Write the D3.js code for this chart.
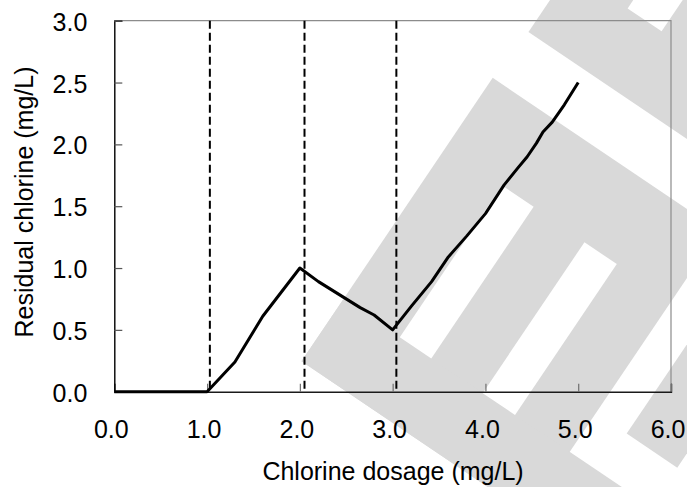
<!DOCTYPE html>
<html>
<head>
<meta charset="utf-8">
<script src="https://cdn.jsdelivr.net/npm/d3@7"></script>
<style>
    html, body { margin: 0; padding: 0; background: #fff; }
    svg { display: block; }
    text { font-family: Arial, "Liberation Sans", sans-serif; fill: #000; }
</style>
</head>
<body>
<div id="chart"></div>
<script>
"use strict";

// chlorine dosage (mg/L) vs residual chlorine (mg/L), breakpoint curve
const dosage   = [0.0, 1.0, 1.3, 1.6, 2.0, 2.2, 2.65, 2.8, 3.0, 3.2, 3.42, 3.6, 3.8, 4.0, 4.2, 4.35, 4.45, 4.55, 4.62, 4.72, 4.85, 5.0];
const residual = [0.0, 0.0, 0.24, 0.61, 1.0, 0.89, 0.68, 0.62, 0.5, 0.69, 0.89, 1.09, 1.26, 1.44, 1.67, 1.81, 1.9, 2.01, 2.1, 2.18, 2.32, 2.5];
const markers  = [1.03, 2.05, 3.04];
const xTicks   = [0, 1, 2, 3, 4, 5, 6];
const yTicks   = [0, 0.5, 1.0, 1.5, 2.0, 2.5, 3.0];

const width = 687;
const height = 487;
const margin = { top: 20.7, right: 16, bottom: 95.3, left: 114.3 };

function drawWatermark(svg) {
    // rotated block logo behind the chart [a0, a1, b0, b1, fill]
    const blocks = [
        [456, 1000, -700, -269, "#d9d9d9"],
        [525, 566, -700, -344, "#fff"],
        [452, 725, -211, 131, "#d9d9d9"],
        [452, 1000, 56, 131, "#d9d9d9"],
        [520, 558, -127, 56, "#fff"],
        [620, 659, -126, 56, "#fff"],
        [762, 823, -700, 9, "#d9d9d9"],
    ];
    svg.append("g")
        .attr("transform", "rotate(34)")
        .selectAll("rect")
        .data(blocks)
        .enter()
        .append("rect")
        .attr("x", d => d[0])
        .attr("width", d => d[1] - d[0])
        .attr("y", d => d[2])
        .attr("height", d => d[3] - d[2])
        .attr("fill", d => d[4]);
}

function renderChart() {
    const svg = d3.select("#chart")
        .append("svg")
        .attr("width", width)
        .attr("height", height);

    drawWatermark(svg);

    const xScale = d3.scaleLinear()
        .domain([0, 6])
        .range([margin.left, width - margin.right]);
    const yScale = d3.scaleLinear()
        .domain([0, 3])
        .range([height - margin.bottom, margin.top]);

    const x0 = xScale(0), x1 = xScale(6);
    const y0 = yScale(0), y1 = yScale(3);

    // top and right frame
    svg.append("path")
        .attr("d", `M${x0},${y1}H${x1}V${y0}`)
        .attr("fill", "none")
        .attr("stroke", "#8c8c8c")
        .attr("stroke-width", 1.2);

    // x axis, ticks pointing inside
    const xAxis = d3.axisBottom(xScale)
        .tickValues(xTicks)
        .tickSize(-8)
        .tickPadding(0)
        .tickFormat(d3.format(".1f"));
    const gx = svg.append("g")
        .attr("transform", `translate(0, ${y0})`)
        .call(xAxis);
    gx.select(".domain").attr("stroke", "#1a1a1a").attr("stroke-width", 1.4);
    gx.selectAll(".tick line").attr("stroke", "#6e6e6e").attr("stroke-width", 1.2);
    gx.selectAll(".tick text")
        .attr("font-size", 25)
        .attr("font-family", null)
        .attr("fill", "#000")
        .attr("y", 0)
        .attr("dy", 46.5)
        .attr("dx", -3.5);

    // y axis, ticks pointing inside
    const yAxis = d3.axisLeft(yScale)
        .tickValues(yTicks)
        .tickSize(-8)
        .tickPadding(0)
        .tickFormat(d3.format(".1f"));
    const gy = svg.append("g")
        .attr("transform", `translate(${x0}, 0)`)
        .call(yAxis);
    gy.select(".domain").attr("stroke", "#000").attr("stroke-width", 1.4);
    gy.selectAll(".tick line").attr("stroke", "#555").attr("stroke-width", 1.2);
    gy.selectAll(".tick text")
        .attr("font-size", 25)
        .attr("font-family", null)
        .attr("fill", "#000")
        .attr("x", -27)
        .attr("dy", "0.38em");

    // dashed breakpoint markers
    svg.append("g")
        .selectAll("line")
        .data(markers)
        .enter()
        .append("line")
        .attr("x1", d => xScale(d))
        .attr("x2", d => xScale(d))
        .attr("y1", y1)
        .attr("y2", y0)
        .attr("stroke", "#000")
        .attr("stroke-width", 2)
        .attr("stroke-dasharray", "8,4");

    // the curve
    const line = d3.line()
        .x((d, i) => xScale(dosage[i]))
        .y(d => yScale(d));
    svg.append("path")
        .datum(residual)
        .attr("d", line)
        .attr("fill", "none")
        .attr("stroke", "#000")
        .attr("stroke-width", 3)
        .attr("stroke-linejoin", "round");

    // axis titles
    svg.append("text")
        .attr("x", 393)
        .attr("y", 480)
        .attr("text-anchor", "middle")
        .attr("font-size", 25)
        .text("Chlorine dosage (mg/L)");

    svg.append("text")
        .attr("transform", `translate(33, 202) rotate(-90)`)
        .attr("text-anchor", "middle")
        .attr("font-size", 25)
        .text("Residual chlorine (mg/L)");
}

document.addEventListener("DOMContentLoaded", renderChart);
</script>
</body>
</html>
